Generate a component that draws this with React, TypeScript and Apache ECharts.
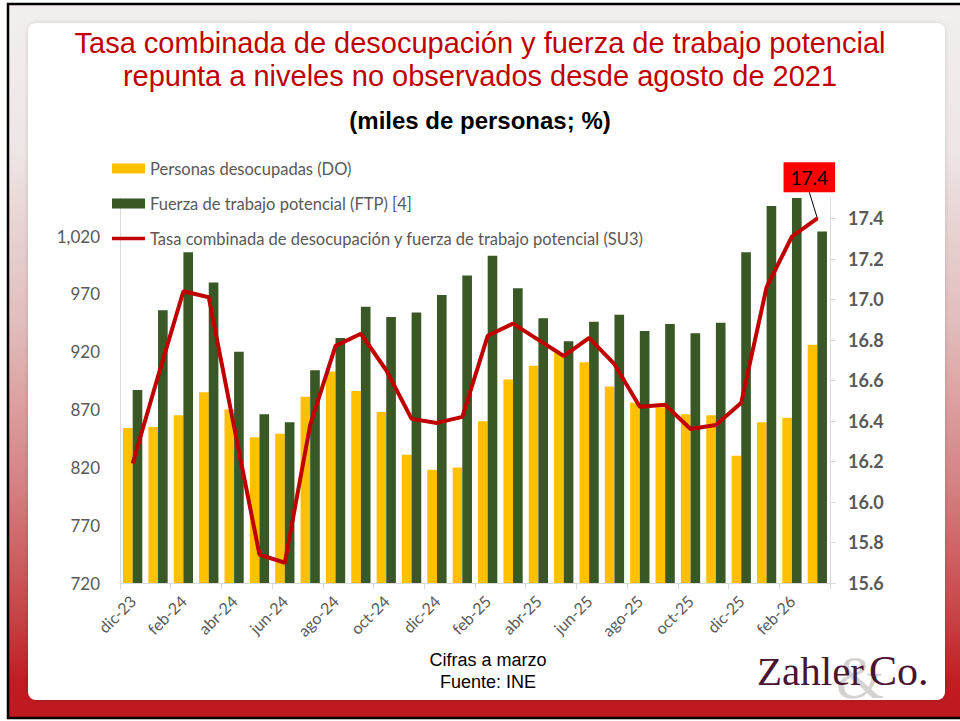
import React, { useEffect, useRef } from "react";
import * as echarts from "echarts";

const categories = [
  "dic-23", "ene-24", "feb-24", "mar-24", "abr-24", "may-24", "jun-24", "jul-24",
  "ago-24", "sep-24", "oct-24", "nov-24", "dic-24", "ene-25", "feb-25", "mar-25",
  "abr-25", "may-25", "jun-25", "jul-25", "ago-25", "sep-25", "oct-25", "nov-25",
  "dic-25", "ene-26", "feb-26", "mar-26",
];
const desocupados = [
  854, 855, 865, 885, 870, 846, 849, 881, 903, 886, 868, 831, 818, 820, 860, 896,
  908, 919, 911, 890, 876, 872, 866, 865, 830, 859, 863, 926,
];
const ftp = [
  887, 956, 1006, 980, 920, 866, 859, 904, 932, 959, 950, 954, 969, 986, 1003, 975,
  949, 929, 946, 952, 938, 944, 936, 945, 1006, 1046, 1053, 1024,
];
const su3 = [
  16.19, 16.62, 17.04, 17.01, 16.37, 15.74, 15.7, 16.38, 16.77, 16.83, 16.65, 16.41,
  16.39, 16.42, 16.82, 16.88, 16.8, 16.72, 16.81, 16.68, 16.47, 16.48, 16.36, 16.38,
  16.49, 17.06, 17.31, 17.4,
];
const seriesNames = [
  "Personas desocupadas (DO)",
  "Fuerza de trabajo potencial (FTP) [4]",
  "Tasa combinada de desocupación y fuerza de trabajo potencial (SU3)",
];
const titleText =
  "Tasa combinada de desocupación y fuerza de trabajo potencial\nrepunta a niveles no observados desde agosto de 2021";
const subtitleText = "(miles de personas; %)";
const footLines = ["Cifras a marzo", "Fuente: INE"];

const UI_FONT = "Lato, 'Noto Sans', sans-serif";
const SANS = "'Liberation Sans', Arial, sans-serif";
const SERIF = "'Liberation Serif', 'DejaVu Serif', serif";

export default function App() {
  const ref = useRef<HTMLDivElement>(null);
  useEffect(() => {
    document.body.style.margin = "0";
    if (!ref.current) return;
    const chart = echarts.init(ref.current, null, { renderer: "svg" });
    const lastIdx = su3.length - 1;
    chart.setOption({
      animation: false,
      backgroundColor: "#ffffff",
      graphic: [
        {
          type: "rect",
          z: -10,
          silent: true,
          shape: { x: 8, y: 4, width: 960, height: 714 },
          style: {
            fill: {
              type: "linear",
              x: 0, y: 0, x2: 0, y2: 1,
              colorStops: [
                { offset: 0, color: "#f3efef" },
                { offset: 0.2, color: "#eee6e6" },
                { offset: 0.45, color: "#e2bcbc" },
                { offset: 0.68, color: "#d48080" },
                { offset: 0.84, color: "#c84a4c" },
                { offset: 0.95, color: "#c01c21" },
                { offset: 1, color: "#be191e" },
              ],
            },
            stroke: "#000000",
            lineWidth: 2.5,
          },
        },
        {
          type: "rect",
          z: -9,
          silent: true,
          shape: { x: 28, y: 23, width: 917, height: 677, r: 8 },
          style: {
            fill: "#ffffff",
            shadowBlur: 4,
            shadowColor: "rgba(0,0,0,0.15)",
          },
        },
        {
          type: "text",
          z: 5,
          x: 488,
          y: 651,
          style: {
            text: footLines[0],
            font: `18px ${SANS}`,
            fill: "#000000",
            align: "center",
          },
        },
        {
          type: "text",
          z: 5,
          x: 488,
          y: 673,
          style: {
            text: footLines[1],
            font: `18px ${SANS}`,
            fill: "#000000",
            align: "center",
          },
        },
        {
          type: "text",
          z: 5,
          x: 836,
          y: 646,
          style: {
            text: "&",
            font: `62px ${SERIF}`,
            fill: "#d6d2d2",
          },
        },
        {
          type: "text",
          z: 6,
          x: 757,
          y: 650,
          style: {
            text: "Zahler",
            font: `41px ${SERIF}`,
            fill: "#4a1430",
          },
        },
        {
          type: "text",
          z: 6,
          x: 869,
          y: 650,
          style: {
            text: "Co.",
            font: `42px ${SERIF}`,
            fill: "#4a1430",
          },
        },
      ],
      title: [
        {
          text: titleText,
          left: "center",
          top: 21,
          textStyle: {
            color: "#c00000",
            fontSize: 29,
            fontWeight: "normal",
            fontFamily: SANS,
            lineHeight: 33,
          },
        },
        {
          text: subtitleText,
          left: "center",
          top: 103,
          textStyle: {
            color: "#000000",
            fontSize: 24,
            fontWeight: "bold",
            fontFamily: SANS,
          },
        },
      ],
      legend: {
        orient: "vertical",
        left: 112,
        top: 160,
        padding: 0,
        itemWidth: 33,
        itemHeight: 10,
        itemGap: 18,
        textStyle: { color: "#595959", fontSize: 16.5, fontFamily: UI_FONT },
        data: [
          { name: seriesNames[0], icon: "rect" },
          { name: seriesNames[1], icon: "rect" },
          { name: seriesNames[2], icon: "path://M0,0H33V3.6H0Z" },
        ],
      },
      grid: { left: 120, right: 130, top: 198, bottom: 138, containLabel: false },
      xAxis: {
        type: "category",
        data: categories,
        boundaryGap: true,
        axisLine: { show: true, lineStyle: { color: "#d9d9d9", width: 1 } },
        axisTick: { show: true, interval: 1, length: 6, lineStyle: { color: "#d9d9d9" } },
        axisLabel: {
          interval: 1,
          rotate: 45,
          color: "#595959",
          fontSize: 16,
          fontFamily: UI_FONT,
          margin: 15,
        },
      },
      yAxis: [
        {
          type: "value",
          min: 720,
          max: 1053,
          interval: 50,
          position: "left",
          splitLine: { show: false },
          axisLine: { show: true, lineStyle: { color: "#d9d9d9" } },
          axisTick: { show: false },
          axisLabel: {
            showMaxLabel: false,
            color: "#595959",
            fontSize: 17,
            fontFamily: UI_FONT,
            margin: 20,
            formatter: (v: number) => v.toLocaleString("en-US"),
          },
        },
        {
          type: "value",
          min: 15.6,
          max: 17.5,
          interval: 0.2,
          position: "right",
          splitLine: { show: false },
          axisLine: { show: true, lineStyle: { color: "#d9d9d9" } },
          axisTick: { show: true, length: 6, lineStyle: { color: "#d9d9d9" } },
          axisLabel: {
            showMaxLabel: false,
            color: "#595959",
            fontSize: 18,
            fontWeight: "bold",
            fontFamily: UI_FONT,
            margin: 18,
            formatter: (v: number) => v.toFixed(1),
          },
        },
      ],
      series: [
        {
          name: seriesNames[0],
          type: "bar",
          yAxisIndex: 0,
          data: desocupados,
          barGap: "0%",
          barCategoryGap: "24%",
          itemStyle: { color: "#ffc000" },
        },
        {
          name: seriesNames[1],
          type: "bar",
          yAxisIndex: 0,
          data: ftp,
          barGap: "0%",
          barCategoryGap: "24%",
          itemStyle: { color: "#3a5726" },
        },
        {
          name: seriesNames[2],
          type: "line",
          yAxisIndex: 1,
          symbol: "none",
          z: 5,
          lineStyle: { color: "#c00000", width: 4 },
          itemStyle: { color: "#c00000" },
          data: su3,
        },
        {
          name: "ultimo",
          type: "line",
          yAxisIndex: 1,
          z: 6,
          symbol: "circle",
          symbolSize: 2,
          showSymbol: true,
          lineStyle: { width: 0 },
          itemStyle: { color: "#c00000" },
          labelLayout: { dx: -8, dy: -20 },
          labelLine: { show: true, lineStyle: { color: "#000000", width: 1 } },
          label: {
            show: true,
            position: "top",
            formatter: (p: any) => Number(p.value).toFixed(1),
            backgroundColor: "#ff0000",
            color: "#000000",
            fontSize: 19,
            fontFamily: UI_FONT,
            padding: [6, 7, 5, 7],
          },
          data: su3.map((v, i) => (i === lastIdx ? v : null)),
        },
      ],
    });
    return () => chart.dispose();
  }, []);
  return <div ref={ref} style={{ width: 960, height: 721 }} />;
}
